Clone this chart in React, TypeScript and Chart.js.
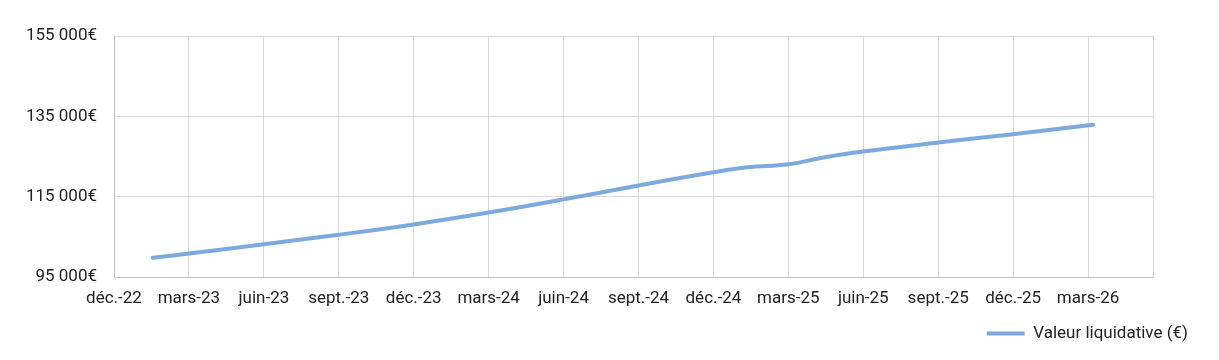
import React, { useEffect, useRef } from "react";
import { Chart, registerables } from "chart.js";

Chart.register(...registerables);

// Axis tick labels (quarterly) and their positions in months since déc.-22
const tickLabels = [
  "déc.-22", "mars-23", "juin-23", "sept.-23", "déc.-23", "mars-24", "juin-24",
  "sept.-24", "déc.-24", "mars-25", "juin-25", "sept.-25", "déc.-25", "mars-26",
];
const tickMonths = [0, 3, 6, 9, 12, 15, 18, 21, 24, 27, 30, 33, 36, 39];

// Series: Valeur liquidative (€), x in months since déc.-22
const pointMonths = [1.55, 3, 6, 9, 12, 15, 18, 21, 24, 25.35, 27, 28.5, 30, 33, 36, 39.2];
const navValues = [
  99800, 100830, 103150, 105520, 108090, 111050, 114330, 117790, 121070,
  122300, 123050, 124880, 126260, 128480, 130560, 132930,
];

const seriesLabel = "Valeur liquidative (€)";
const yTicks = [95000, 115000, 135000, 155000];

const fmtEuro = (v: number) =>
  String(Math.round(v)).replace(/\B(?=(\d{3})+(?!\d))/g, " ") + "€";

export default function App() {
  const canvasRef = useRef<HTMLCanvasElement | null>(null);

  useEffect(() => {
    if (!canvasRef.current) return;
    const font = { family: "Roboto", size: 17 };
    const textColor = "#222222";
    const chart = new Chart(canvasRef.current, {
      type: "line",
      data: {
        datasets: [
          {
            label: seriesLabel,
            data: pointMonths.map((m, i) => ({ x: m, y: navValues[i] })),
            borderColor: "rgb(124,170,222)",
            backgroundColor: "rgb(124,170,222)",
            borderWidth: 4,
            pointRadius: 0,
            pointHoverRadius: 0,
            tension: 0.4,
            borderCapStyle: "round",
            fill: false,
          },
        ],
      },
      options: {
        animation: false,
        responsive: true,
        maintainAspectRatio: false,
        layout: { padding: { left: 0, right: 21, top: 36, bottom: 8 } },
        plugins: {
          tooltip: { enabled: false },
          legend: {
            display: true,
            position: "bottom",
            align: "end",
            labels: {
              usePointStyle: true,
              pointStyle: "line",
              pointStyleWidth: 38,
              color: textColor,
              font,
              padding: 10,
            },
          },
        },
        scales: {
          x: {
            type: "linear",
            min: 0,
            max: 41.6,
            afterBuildTicks: (scale: any) => {
              scale.ticks = tickMonths.map((v) => ({ value: v }));
            },
            afterFit: (scale: any) => {
              scale.height = 38;
            },
            ticks: {
              autoSkip: false,
              maxRotation: 0,
              padding: 12,
              color: textColor,
              font,
              callback: (v: any) => {
                const i = tickMonths.indexOf(Number(v));
                return i >= 0 ? tickLabels[i] : "";
              },
            },
            grid: { color: "#d9d9d9", lineWidth: 1, drawTicks: false },
            border: { display: true, color: "#bfbfbf", width: 1 },
          },
          y: {
            type: "linear",
            position: "left",
            min: 95000,
            max: 155000,
            afterBuildTicks: (scale: any) => {
              scale.ticks = yTicks.map((v) => ({ value: v }));
            },
            afterFit: (scale: any) => {
              scale.width = 114;
            },
            ticks: {
              padding: 17,
              color: textColor,
              font,
              callback: (v: any) => fmtEuro(Number(v)),
            },
            grid: { color: "#d9d9d9", lineWidth: 1, drawTicks: false },
            border: { display: true, color: "#bfbfbf", width: 1 },
          },
          yr: {
            type: "linear",
            position: "right",
            min: 95000,
            max: 155000,
            afterFit: (scale: any) => {
              scale.width = 45;
            },
            ticks: { display: false },
            grid: { display: false, drawTicks: false },
            border: { display: true, color: "#d9d9d9", width: 1 },
          },
        },
      },
    } as any);
    return () => chart.destroy();
  }, []);

  return (
    <div style={{ position: "absolute", left: 0, top: 0, width: 1219, height: 360 }}>
      <canvas ref={canvasRef} />
    </div>
  );
}
